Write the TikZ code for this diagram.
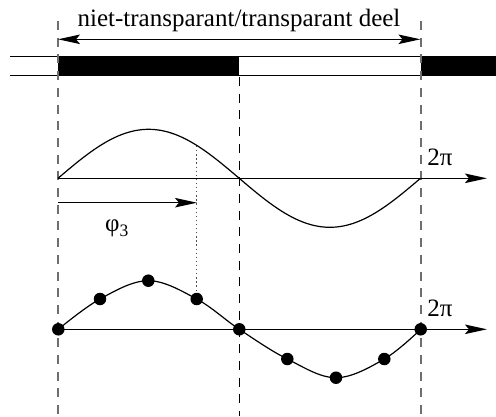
\documentclass[tikz,border=0pt]{standalone}
\usepackage{fontspec}
\setmainfont{Liberation Serif}
\usetikzlibrary{arrows.meta}
\definecolor{guidegray}{RGB}{110,110,110}
\definecolor{dotgray}{RGB}{80,80,80}
\begin{document}
\begin{tikzpicture}[x=1pt,y=-1pt,
  tip/.style={-{Stealth[length=22pt,width=9.5pt,inset=4pt]}},
  guide/.style={line width=2pt, draw=guidegray, dash pattern=on 9pt off 7.7pt},
  midguide/.style={line width=1.4pt, draw=black, dash pattern=on 9pt off 7.7pt},
  dotline/.style={line width=1.4pt, draw=dotgray, dash pattern=on 1.3pt off 2.8pt},
  sample/.style={circle, fill=black, inner sep=0pt, minimum size=12.5pt},
  lbl/.style={font=\fontsize{25}{30}\selectfont, inner sep=0pt, anchor=base}]
\useasboundingbox (0,0) rectangle (496,416);
% bar
\fill[black] (58,56.7) rectangle (239.3,75.3);
\fill[black] (420.5,56.7) rectangle (496,75.3);
\draw[line width=1.2pt] (10,56.7) -- (496,56.7);
\draw[line width=1.2pt] (10,75.3) -- (496,75.3);
% guides
\coordinate (gLt) at (58,21); \coordinate (gLb) at (58,416);
\coordinate (gRt) at (420.5,21); \coordinate (gRb) at (420.5,416);
\coordinate (gMt) at (239.3,77); \coordinate (gMb) at (239.3,416);
\draw[guide] (gLt) -- (gLb);
\draw[guide] (gRt) -- (gRb);
\draw[midguide] (gMt) -- (gMb);
% top arrow and label
\coordinate (tA) at (58,39.3); \coordinate (tB) at (420.5,39.3);
\draw[line width=1.2pt, {Stealth[length=22pt,width=9.5pt,inset=4pt]}-{Stealth[length=22pt,width=9.5pt,inset=4pt]}] (tA) -- (tB);
\node[lbl] (title) at (239,26) {niet-transparant/transparant deel};
% first wave
\coordinate (a1s) at (58,178.3); \coordinate (a1e) at (487,178.3);
\draw[line width=1.5pt, tip] (a1s) -- (a1e);
\draw[line width=1.2pt] plot[domain=0:360, samples=120] ({58+\x/360*362.5},{178.3-49*sin(\x)});
\node[lbl] (pi1) at (440,165) {2π};
% phase arrow
\coordinate (ph0) at (58,202.7); \coordinate (ph1) at (197,202.7);
\draw[line width=1.3pt, tip] (ph0) -- (ph1);
\node[lbl, anchor=base west] (phi) at (105,231) {φ\raisebox{-5.5pt}{\fontsize{17.5}{20}\selectfont 3}};
% second wave
\coordinate (a2s) at (58,329.3); \coordinate (a2e) at (487,329.3);
\draw[line width=1.5pt, tip] (a2s) -- (a2e);
\coordinate (p0) at (58.3,329.3);
\coordinate (p1) at (100,299);
\coordinate (p2) at (148.3,280.7);
\coordinate (p3) at (196.7,299);
\coordinate (p4) at (239.3,329.3);
\coordinate (p5) at (287.3,359);
\coordinate (p6) at (336,377.7);
\coordinate (p7) at (384.3,359);
\coordinate (p8) at (420.7,329.3);
\draw[line width=1.2pt] plot[smooth, tension=0.6] coordinates {(p0) (p1) (p2) (p3) (p4) (p5) (p6) (p7) (p8)};
\foreach \i in {0,...,8} { \node[sample] (d\i) at (p\i) {}; }
\node[lbl] (pi2) at (440,316.5) {2π};
% dotted link
\coordinate (w1) at (196.7,146);
\draw[dotline] (w1) -- (d3.north);
\end{tikzpicture}
\end{document}
